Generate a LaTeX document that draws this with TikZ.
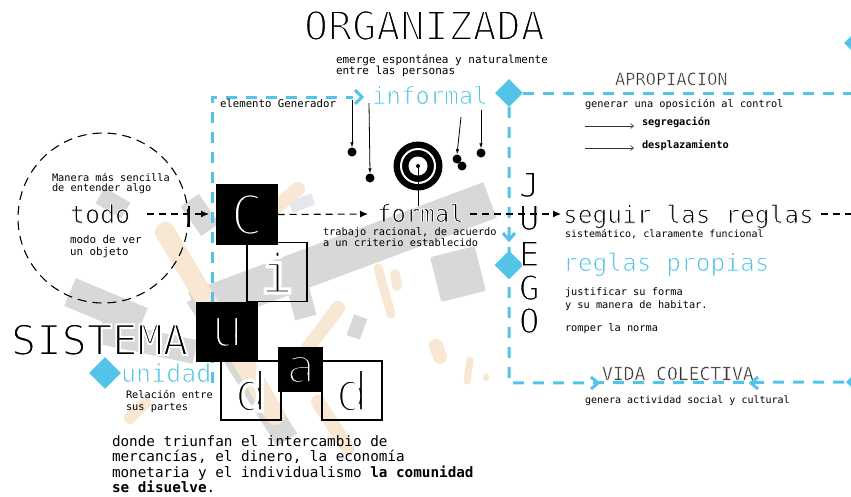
\documentclass[tikz,border=0pt]{standalone}
\usepackage{fontspec}
\setmainfont{DejaVu Sans Mono}
\usetikzlibrary{arrows.meta,shapes.geometric}
\definecolor{cblue}{RGB}{82,196,232}
\definecolor{bgg}{RGB}{216,216,216}
\definecolor{bgl}{RGB}{228,231,236}
\definecolor{bgb}{RGB}{248,231,210}
\definecolor{dgray}{RGB}{50,50,50}
\newcommand\thw[1]{\special{pdf:literal direct 2 Tr 1 1 1 RG #1 w}}
\newcommand\thk[1]{\special{pdf:literal direct 2 Tr 0 0 0 RG #1 w}}
\tikzset{
  txt/.style={anchor=base west, inner sep=0pt, outer sep=0pt},
  fs/.style={font=\fontsize{#1}{#1}\selectfont},
  smalltxt/.style={txt, fs=10.3},
  bluedash/.style={draw=cblue, line width=3pt, dash pattern=on 11pt off 9pt},
  blackdash/.style={draw=black, line width=1.1pt, dash pattern=on 7pt off 5pt},
  chev/.style={draw=cblue, line width=3pt, line cap=butt, line join=miter},
  bdiam/.style={diamond, fill=cblue, inner sep=0pt, minimum width=#1, minimum height=#1},
  wbox/.style={draw=black, line width=1.2pt, minimum width=60pt, minimum height=59pt, inner sep=0pt, fs=55},
  kbox/.style={wbox, fill=black, text=white},
  gbar/.style={draw=bgg, line width=#1},
  bbar/.style={draw=bgb, line width=#1, line cap=round},
  gblock/.style={fill=bgg, inner sep=0pt},
  dotline/.style={draw=black, line width=0.8pt, -{Latex[length=5pt,width=3.5pt]}},
  dotnode/.style={circle, fill=black, inner sep=0pt, minimum size=9pt},
  tipk/.style={-{Latex[length=8pt,width=7pt]}},
  thinarrow/.style={draw=dgray, line width=0.6pt, -{Straight Barb[length=3pt,width=5pt]}},
}
\begin{document}
\begin{tikzpicture}[x=1pt,y=-1pt]
\useasboundingbox (0,0) rectangle (851,496);
% ---------- background decoration ----------
\draw[gbar=38pt] (195,310) -- (490,200);
\draw[gbar=24pt] (197,296) -- (287,440);
\draw[gbar=30pt] (70,292) -- (142,322);
\draw[gbar=24pt] (100,332) -- (195,352);
\node[gblock, minimum width=30pt, minimum height=18pt, rotate=-30] (g1) at (113,203) {};
\node[gblock, minimum width=22pt, minimum height=36pt, rotate=35] (g2) at (200,215) {};
\node[gblock, minimum width=46pt, minimum height=46pt, rotate=14, rounded corners=2pt] (g3) at (458,274) {};
\node[gblock, minimum width=14pt, minimum height=22pt, rotate=-20] (g4) at (357,327) {};
\node[gblock, minimum width=22pt, minimum height=30pt, rotate=15] (g5) at (302,303) {};
\node[fill=bgl, inner sep=0pt, minimum width=24pt, minimum height=12pt, rotate=20] (g6) at (302,203) {};
\draw[bbar=20pt] (165,232) -- (275,415);
\draw[bbar=14pt] (298,189) -- (270,212);
\draw[bbar=9pt] (378,268) -- (391,314);
\draw[bbar=10pt] (395,274) -- (397,286);
\draw[bbar=14pt] (338,308) -- (302,356);
\draw[bbar=14pt] (318,402) -- (348,448);
\draw[bbar=14pt] (436,346) -- (440,357);
\draw[bbar=7pt] (470,360) -- (467,381);
\draw[bbar=6pt] (486,376) -- (486,378);
\draw[bbar=12pt] (130,418) -- (145,403);
% ---------- dashed circle ----------
\node[circle, draw=black, line width=1.1pt, dash pattern=on 9pt off 6pt, minimum size=170pt, inner sep=0pt] (circ) at (103,218) {};
% ---------- blue frame lines ----------
\coordinate (bl0) at (212,383);
\coordinate (bl1) at (212,97);
\coordinate (bl2) at (353,97);
\draw[bluedash] (bl0) -- (bl1) -- (bl2);
\draw[chev] (355,90) -- (362,97) -- (355,104);
\node[bdiam=28pt] (dtop) at (509,93) {};
\node[bdiam=20pt] (dtr) at (854,43) {};
\node[bdiam=20pt] (dbr) at (856,382) {};
\coordinate (rtop) at (851,93);
\coordinate (rcorner) at (509,383);
\draw[bluedash] (dtop.east) -- (rtop);
\draw[bluedash] (dtop.south) -- (rcorner) -- (dbr.west);
\node[bdiam=29pt] (dmid) at (509,265) {};
\draw[chev] (503,233) -- (509,240) -- (515,233);
\draw[chev] (591,377) -- (598,383) -- (591,389);
\draw[chev] (758,377) -- (751,383) -- (758,389);
\node[bdiam=32pt] (duni) at (105,373) {};
% ---------- letter boxes ----------
\node[wbox] (bi) at (277,272) {\thw{3.2}i};
\node[wbox] (bd1) at (251,390.5) {\thw{3.2}d};
\node[wbox] (bd2) at (352,390.5) {\thw{3.2}d};
\node[kbox] (bC) at (247,214.5) {\thk{3.2}C};
\node[kbox] (bu) at (227,332) {\thk{3.2}u};
\node[kbox, minimum width=43pt, minimum height=43pt, fs=48] (ba) at (300.5,369.5) {\thk{2.8}a};
% ---------- target ----------
\node[circle, fill=black, minimum size=49pt, inner sep=0pt] (target) at (418,166) {};
\draw[white, line width=2pt] (target.center) circle[radius=17pt];
\fill[white] (target.center) circle[radius=9.5pt];
\fill[black] (target.center) circle[radius=2pt];
\coordinate (tbot) at (418,206);
\draw[line width=1pt] (target.center) -- (tbot);
% ---------- dots under informal ----------
\node[dotnode] (p1) at (352,152) {};
\node[dotnode] (p2) at (370,178) {};
\node[dotnode] (p3a) at (457,159) {};
\node[dotnode] (p3b) at (462,166) {};
\node[dotnode] (p4) at (481,153) {};
\coordinate (q1) at (352,100);
\coordinate (q2) at (369,103);
\coordinate (q3) at (461,117);
\coordinate (q4) at (481,110);
\draw[dotline] (q1) -- (p1.north);
\draw[dotline] (q2) -- (p2.north);
\draw[dotline] (q3) -- (p3a.north);
\draw[dotline] (q4) -- (p4.north);
% ---------- titles and texts ----------
\node[txt, fs=40] (org) at (304,40) {\thw{1.8}ORGANIZADA};
\node[txt, fs=11] (em1) at (336,63) {emerge espontánea y naturalmente};
\node[txt, fs=11] (em2) at (336,74) {entre las personas};
\node[txt, fs=10.7] (gen) at (220,107) {elemento Generador};
\node[txt, fs=24, text=cblue] (inf) at (372,104) {\thw{0.8}informal};
\node[txt, fs=24] (formal) at (377,222) {\thw{0.8}formal};
\node[smalltxt] (tr1) at (323,235) {trabajo racional, de acuerdo};
\node[smalltxt] (tr2) at (323,246) {a un criterio establecido};
\node[smalltxt] (m1) at (52,181) {Manera más sencilla};
\node[smalltxt] (m2) at (52,191) {de entender algo};
\node[txt, fs=25] (todo) at (70,223) {\thw{0.8}todo};
\node[txt, fs=10.8] (mo1) at (70,243) {modo de ver};
\node[txt, fs=10.8] (mo2) at (70,255) {un objeto};
\node[txt, fs=17, text=dgray] (apro) at (615,85) {\thw{0.4}APROPIACION};
\node[smalltxt] (opo) at (585,107) {generar una oposición al control};
\node[smalltxt, font=\fontsize{10.3}{10.3}\selectfont\bfseries] (seg) at (642,125) {segregación};
\node[smalltxt, font=\fontsize{10.3}{10.3}\selectfont\bfseries] (des) at (642,148) {desplazamiento};
\coordinate (a1s) at (585,126);
\coordinate (a2s) at (585,148);
\draw[thinarrow] (a1s) -- ([xshift=-8pt]seg.west |- a1s);
\draw[thinarrow] (a2s) -- ([xshift=-8pt]des.west |- a2s);
\node[txt, fs=34] (lJ) at (519,197) {\thw{1.3}J};
\node[txt, fs=34] (lU) at (519,230) {\thw{1.3}U};
\node[txt, fs=34] (lE) at (519,266) {\thw{1.3}E};
\node[txt, fs=34] (lG) at (519,300) {\thw{1.3}G};
\node[txt, fs=34] (lO) at (519,333) {\thw{1.3}O};
\node[txt, fs=24.5] (seguir) at (563,223) {\thw{0.8}seguir las reglas};
\node[txt, fs=10] (sis) at (565,237) {sistemático, claramente funcional};
\node[txt, fs=24.5, text=cblue] (propias) at (563,271) {\thw{0.8}reglas propias};
\node[smalltxt] (j1) at (565,295) {justificar su forma};
\node[smalltxt] (j2) at (565,308) {y su manera de habitar.};
\node[smalltxt] (rom) at (565,331) {romper la norma};
\node[txt, fs=18, text=dgray] (vida) at (602,380) {\thw{0.4}VIDA COLECTIVA};
\node[txt, fs=10] (act) at (585,403) {genera actividad social y cultural};
\node[txt, fs=42] (sistema) at (11,355) {\thw{1.8}SISTEMA};
\node[txt, fs=25, text=cblue] (unidad) at (121,382) {\thw{0.8}unidad};
\node[smalltxt] (r1) at (126,398) {Relación entre};
\node[smalltxt] (r2) at (126,410) {sus partes};
\node[txt, fs=14.3] (b1) at (112,446) {donde triunfan el intercambio de};
\node[txt, fs=14.3] (b2) at (112,461) {mercancías, el dinero, la economía};
\node[txt, fs=14.3] (b3) at (112,477) {monetaria y el individualismo \textbf{la comunidad}};
\node[txt, fs=14.3] (b4) at (112,492) {\textbf{se disuelve}.};
% ---------- black dashed connectors ----------
\coordinate (k0) at (147,214);
\coordinate (k1) at (209,214);
\draw[blackdash, tipk] (k0) -- (k1);
\coordinate (tk1) at (189,206);
\coordinate (tk2) at (189,227);
\draw[line width=1.1pt] (tk1) -- (tk2);
\coordinate (k2) at (368,214);
\draw[blackdash, tipk] (bC.east) -- (k2);
\coordinate (k3) at (470,214);
\coordinate (k4) at (561,214);
\draw[blackdash, tipk] (k3) -- (k4);
\coordinate (k5) at (821,214);
\coordinate (k6) at (851,214);
\draw[blackdash] (k5) -- (k6);
\end{tikzpicture}
\end{document}
